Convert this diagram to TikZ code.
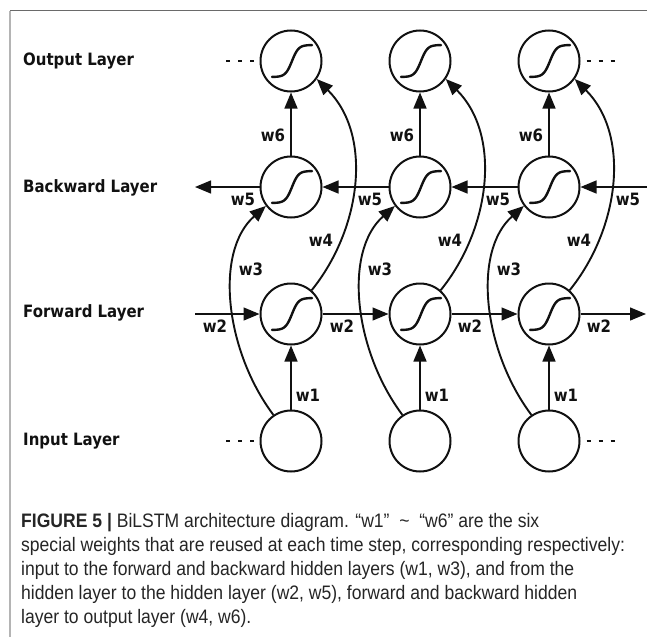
\documentclass[tikz,border=0pt]{standalone}
\usepackage{fontspec}
\setmainfont{Liberation Sans}[FakeStretch=0.9]
\newfontfamily\labfont{DejaVu Sans}[FakeStretch=0.88]
\usetikzlibrary{arrows.meta}
\definecolor{ink}{HTML}{111111}
\definecolor{captxt}{HTML}{252525}
\definecolor{frametop}{HTML}{6A6A6A}
\definecolor{frameleft}{HTML}{B4B4B4}
\tikzset{
  neuron/.style={circle, draw=ink, line width=2pt, minimum size=61pt, inner sep=0pt},
  conn/.style={draw=ink, line width=1.4pt, -{Triangle[length=16pt,width=13pt]}},
  curvearrow/.style={draw=ink, line width=1.9pt, -{Triangle[length=16pt,width=13pt]}},
  sig/.style={draw=ink, line width=2.4pt, line cap=round},
  dotline/.style={draw=ink, line width=1.1pt, dash pattern=on 4pt off 8pt},
  layer/.style={anchor=west, inner sep=0pt, font=\labfont\bfseries\fontsize{17}{20}\selectfont, text=ink},
  wlab/.style={inner sep=0pt, font=\labfont\bfseries\fontsize{17}{20}\selectfont, text=ink},
  captext/.style={anchor=base west, inner sep=0pt, font=\fontsize{19.5}{24}\selectfont, text=captxt},
}
\begin{document}
\begin{tikzpicture}[x=1pt,y=-1pt]
\useasboundingbox (0,0) rectangle (647,637);
% frame
\draw[frametop, line width=1.2pt] (10,10.5) -- (647,10.5);
\draw[frameleft, line width=2pt] (10,10.5) -- (10,637);

% layer labels
\node[layer] (lo) at (23,61) {Output Layer};
\node[layer] (lb) at (23,188) {Backward Layer};
\node[layer] (lf) at (23,313) {Forward Layer};
\node[layer] (li) at (23,441) {Input Layer};

% neurons
\foreach \i/\x in {1/291,2/420,3/549}{
  \node[neuron] (o\i) at (\x,61) {};
  \node[neuron] (b\i) at (\x,187) {};
  \node[neuron] (f\i) at (\x,314) {};
  \node[neuron] (n\i) at (\x,441) {};
}
% sigmoids
\foreach \n in {o1,o2,o3,b1,b2,b3,f1,f2,f3}{
  \draw[sig, shift={(\n.center)}] plot[domain=-20:20, samples=41, smooth] (\x+1,{-16*tanh(\x/6.5)});
}

% dotted continuations
\draw[dotline] ([xshift=-6pt]o1.west) -- ++(-28,0);
\draw[dotline] ([xshift=6pt]o3.east) -- ++(28,0);
\draw[dotline] ([xshift=-6pt]n1.west) -- ++(-28,0);
\draw[dotline] ([xshift=6pt]n3.east) -- ++(28,0);

% free ends
\coordinate (fl) at (195,314);
\coordinate (fr) at (646,314);
\coordinate (bl) at (195,187);
\coordinate (br) at (647,187);

% forward layer
\draw[conn] (fl) -- (f1.west);
\draw[conn] (f1.east) -- (f2.west);
\draw[conn] (f2.east) -- (f3.west);
\draw[conn] (f3.east) -- (fr);
% backward layer
\draw[conn] (b1.west) -- (bl);
\draw[conn] (b2.west) -- (b1.east);
\draw[conn] (b3.west) -- (b2.east);
\draw[conn] (br) -- (b3.east);

\foreach \i in {1,2,3}{
  \draw[conn] (n\i.north) -- (f\i.south);
  \draw[conn] (b\i.north) -- (o\i.south);
  \draw[curvearrow] (n\i.124) .. controls +(-48,-64) and +(-52,46) .. (b\i.217);
  \draw[curvearrow] (f\i.49) .. controls +(50,-62) and +(56,56) .. (o\i.-35);
}

% weight labels
\foreach \i/\x in {1/291,2/420,3/549}{
  \node[wlab] (w6\i) at (\x-18,135) {w6};
  \node[wlab] (w4\i) at (\x+30,240) {w4};
  \node[wlab] (w3\i) at (\x-40,269) {w3};
  \node[wlab] (w1\i) at (\x+17,395) {w1};
}
\node[wlab] (w51) at (243,199) {w5};
\node[wlab] (w52) at (370,199) {w5};
\node[wlab] (w53) at (498,199) {w5};
\node[wlab] (w54) at (628,199) {w5};
\node[wlab] (w21) at (215,326) {w2};
\node[wlab] (w22) at (342,326) {w2};
\node[wlab] (w23) at (470,326) {w2};
\node[wlab] (w24) at (599,326) {w2};

% caption
\node[captext] (c1) at (21,527.5) {\textbf{FIGURE 5 |} BiLSTM architecture diagram. “w1”\ \ \textasciitilde\ \ “w6” are the six};
\node[captext] (c2) at (21,551.5) {special weights that are reused at each time step, corresponding respectively:};
\node[captext] (c3) at (21,575.5) {input to the forward and backward hidden layers (w1, w3), and from the};
\node[captext] (c4) at (21,599.5) {hidden layer to the hidden layer (w2, w5), forward and backward hidden};
\node[captext] (c5) at (21,623.5) {layer to output layer (w4, w6).};
\end{tikzpicture}
\end{document}
